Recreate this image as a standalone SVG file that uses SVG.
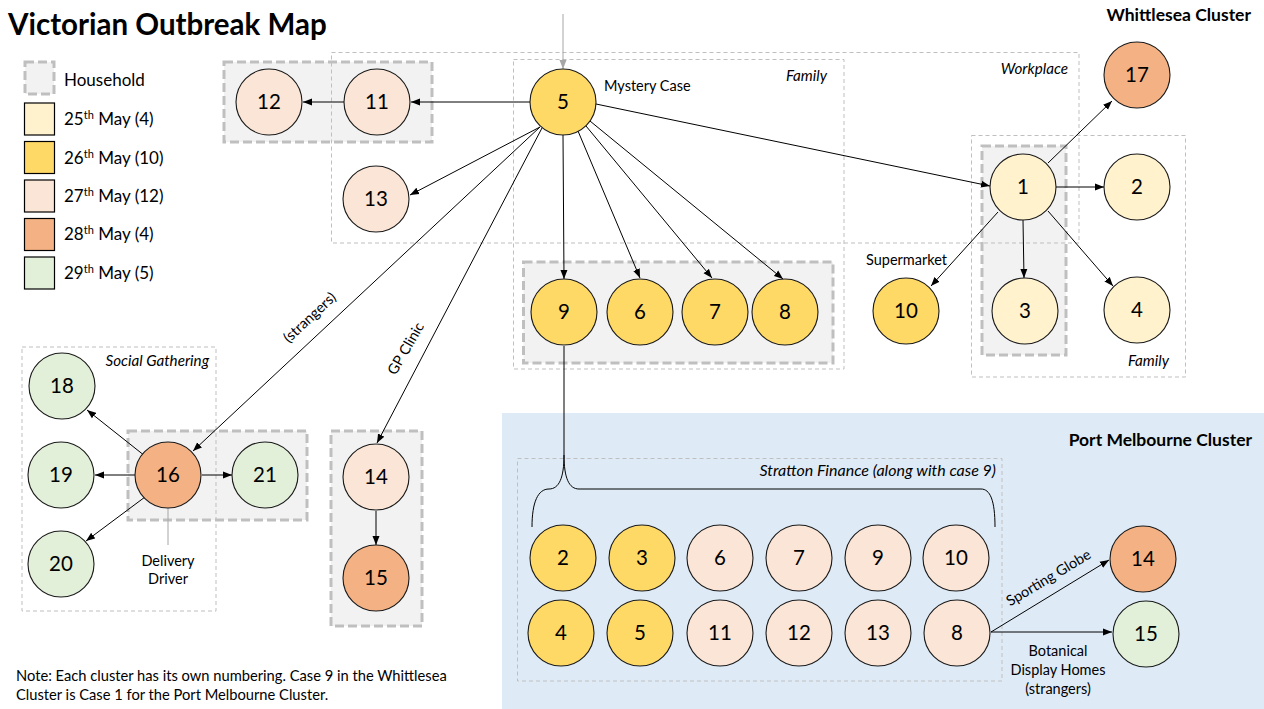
<svg xmlns="http://www.w3.org/2000/svg" width="1264" height="709" viewBox="0 0 1264 709">
  <style>
    text { font-family: Lato, "Open Sans", "Liberation Sans", sans-serif; fill: #000; }
    .title { font-size: 29.5px; font-weight: bold; }
    .cluster { font-size: 17.5px; font-weight: bold; }
    .legend { font-size: 17px; }
    .lbl { font-size: 14.5px; }
    .ital { font-size: 15.2px; font-style: italic; }
    .num { font-size: 20.5px; text-anchor: middle; }
    .note { font-size: 14.7px; }
    .household { fill: #f2f2f2; stroke: #bfbfbf; stroke-width: 3; stroke-dasharray: 9 4; }
    .zone { fill: none; stroke: #bfbfbf; stroke-width: 1; stroke-dasharray: 4 3; }
    .node { stroke: #1a1a1a; stroke-width: 1.1; }
    .d25 { fill: #fff2cc; }
    .d26 { fill: #ffd966; }
    .d27 { fill: #fbe5d6; }
    .d28 { fill: #f4b183; }
    .d29 { fill: #e2f0d9; }
    .edge { stroke: #000; stroke-width: 1; fill: none; marker-end: url(#arrow); }
    .plain { stroke: #000; stroke-width: 1; fill: none; }
    .guide { stroke: #a6a6a6; stroke-width: 1; fill: none; }
  </style>
  <defs>
    <marker id="arrow" markerUnits="userSpaceOnUse" markerWidth="10" markerHeight="8" refX="9" refY="4" orient="auto">
      <path d="M0,0.5 L9,4 L0,7.5 z" fill="#000"/>
    </marker>
    <marker id="arrowGrey" markerUnits="userSpaceOnUse" markerWidth="10" markerHeight="8" refX="9" refY="4" orient="auto">
      <path d="M0,0.5 L9,4 L0,7.5 z" fill="#a6a6a6"/>
    </marker>
  </defs>

  <rect width="1264" height="709" fill="#ffffff"/>

  <!-- Port Melbourne backdrop -->
  <rect x="502" y="413" width="762" height="296" fill="#deebf7"/>

  <!-- Title and cluster headings -->
  <text class="title" x="8" y="35">Victorian Outbreak Map</text>
  <text class="cluster" x="1251" y="21" text-anchor="end">Whittlesea Cluster</text>
  <text class="cluster" x="1252" y="446" text-anchor="end">Port Melbourne Cluster</text>

  <!-- Legend -->
  <g id="legend">
    <rect class="household" x="25" y="62" width="29" height="32"/>
    <text class="legend" x="64" y="86">Household</text>
    <rect class="d25" x="24.5" y="103" width="30" height="32" stroke="#000" stroke-width="1.2"/>
    <text class="legend" x="64" y="125">25<tspan font-size="11" dy="-6">th</tspan><tspan dy="6"> May (4)</tspan></text>
    <rect class="d26" x="24.5" y="141.5" width="30" height="32" stroke="#000" stroke-width="1.2"/>
    <text class="legend" x="64" y="163.5">26<tspan font-size="11" dy="-6">th</tspan><tspan dy="6"> May (10)</tspan></text>
    <rect class="d27" x="24.5" y="180" width="30" height="32" stroke="#000" stroke-width="1.2"/>
    <text class="legend" x="64" y="202">27<tspan font-size="11" dy="-6">th</tspan><tspan dy="6"> May (12)</tspan></text>
    <rect class="d28" x="24.5" y="218.5" width="30" height="32" stroke="#000" stroke-width="1.2"/>
    <text class="legend" x="64" y="240">28<tspan font-size="11" dy="-6">th</tspan><tspan dy="6"> May (4)</tspan></text>
    <rect class="d29" x="24.5" y="257" width="30" height="32" stroke="#000" stroke-width="1.2"/>
    <text class="legend" x="64" y="278.5">29<tspan font-size="11" dy="-6">th</tspan><tspan dy="6"> May (5)</tspan></text>
  </g>

  <!-- Household groupings -->
  <g id="households">
    <rect class="household" x="224" y="62" width="208" height="80"/>
    <rect class="household" x="523.5" y="262" width="309.5" height="101"/>
    <rect class="household" x="982" y="146" width="84" height="209"/>
    <rect class="household" x="128" y="431" width="179" height="89"/>
    <rect class="household" x="331" y="431" width="91" height="195"/>
  </g>

  <!-- Setting zones -->
  <g id="zones">
    <rect class="zone" x="331.5" y="52.5" width="747.5" height="190.5"/>
    <text class="ital" x="1068" y="74" text-anchor="end">Workplace</text>
    <rect class="zone" x="513.5" y="59.5" width="330.5" height="309.5"/>
    <text class="ital" x="827" y="81" text-anchor="end">Family</text>
    <rect class="zone" x="971.5" y="135.5" width="214" height="241.5"/>
    <text class="ital" x="1169" y="366" text-anchor="end">Family</text>
    <rect class="zone" x="22" y="347" width="194" height="264"/>
    <text class="ital" x="209" y="366" text-anchor="end">Social Gathering</text>
    <rect class="zone" x="517.5" y="458.5" width="484.5" height="222.5"/>
    <text class="ital" x="996" y="476" text-anchor="end" style="font-size:16px">Stratton Finance (along with case 9)</text>
  </g>

  <!-- Connectors -->
  <g id="connectors">
    <path class="guide" d="M563,14 L563,69" marker-end="url(#arrowGrey)"/>
    <path class="edge" d="M530,102 L411,102"/>
    <path class="edge" d="M344,102 L303,102"/>
    <path class="edge" d="M540,127 L410,195"/>
    <path class="edge" d="M540,127 L193,451"/>
    <path class="edge" d="M542,128 L377,443"/>
    <path class="edge" d="M563,135 L564,279"/>
    <path class="edge" d="M578,131 L640,278"/>
    <path class="edge" d="M586,126 L712,278"/>
    <path class="edge" d="M590,121 L783,279"/>
    <path class="edge" d="M596,104 L990,186"/>
    <path class="edge" d="M1048,163 L1112,101"/>
    <path class="edge" d="M1056,187 L1104,187"/>
    <path class="edge" d="M1023,220 L1024,278"/>
    <path class="edge" d="M1048,211 L1113,286"/>
    <path class="edge" d="M998,212 L931,286"/>
    <path class="edge" d="M145,456 L87,410"/>
    <path class="edge" d="M135,475 L95,475"/>
    <path class="edge" d="M145,497 L86,541"/>
    <path class="edge" d="M202,475 L232,475"/>
    <path class="edge" d="M376,511 L376,545"/>
    <path class="guide" d="M168,508 L168,545"/>
    <!-- case 9 bracket over Stratton Finance -->
    <path class="plain" d="M564,346 L564,455 C564,478 569,489 579,489 L981,489 C990,489 995,500 995,527"/>
    <path class="plain" d="M564,455 C564,478 559,489 549,489 C538,489 532,502 532,527"/>
    <path class="edge" d="M991,632 L1109,560"/>
    <path class="edge" d="M991,632 L1112,632"/>
  </g>

  <!-- Connector labels -->
  <text class="lbl" x="604" y="91">Mystery Case</text>
  <text class="lbl" x="866" y="265">Supermarket</text>
  <text class="lbl" transform="translate(313,321) rotate(-43)" text-anchor="middle">(strangers)</text>
  <text class="lbl" transform="translate(410,351) rotate(-60)" text-anchor="middle">GP Clinic</text>
  <text class="lbl" transform="translate(1051,582) rotate(-31)" text-anchor="middle">Sporting Globe</text>
  <text class="lbl" x="1058" y="656" text-anchor="middle">Botanical</text>
  <text class="lbl" x="1058" y="675" text-anchor="middle">Display Homes</text>
  <text class="lbl" x="1058" y="694" text-anchor="middle">(strangers)</text>
  <text class="lbl" x="168" y="566" text-anchor="middle">Delivery</text>
  <text class="lbl" x="168" y="584" text-anchor="middle">Driver</text>

  <!-- Whittlesea cases -->
  <g id="w5"><circle class="node d26" cx="563" cy="102" r="33"/><text class="num" x="563" y="109">5</text></g>
  <g id="w11"><circle class="node d27" cx="377" cy="102" r="33"/><text class="num" x="377" y="109">11</text></g>
  <g id="w12"><circle class="node d27" cx="269" cy="102" r="33"/><text class="num" x="269" y="109">12</text></g>
  <g id="w13"><circle class="node d27" cx="376" cy="199" r="33"/><text class="num" x="376" y="206">13</text></g>
  <g id="w9"><circle class="node d26" cx="564" cy="312" r="33"/><text class="num" x="564" y="319">9</text></g>
  <g id="w6"><circle class="node d26" cx="640" cy="312" r="33"/><text class="num" x="640" y="319">6</text></g>
  <g id="w7"><circle class="node d26" cx="715" cy="312" r="33"/><text class="num" x="715" y="319">7</text></g>
  <g id="w8"><circle class="node d26" cx="785" cy="312" r="33"/><text class="num" x="785" y="319">8</text></g>
  <g id="w1"><circle class="node d25" cx="1023" cy="187" r="33"/><text class="num" x="1023" y="194">1</text></g>
  <g id="w2"><circle class="node d25" cx="1137" cy="187" r="33"/><text class="num" x="1137" y="194">2</text></g>
  <g id="w3"><circle class="node d25" cx="1025" cy="311" r="33"/><text class="num" x="1025" y="318">3</text></g>
  <g id="w4"><circle class="node d25" cx="1137" cy="310" r="33"/><text class="num" x="1137" y="317">4</text></g>
  <g id="w10"><circle class="node d26" cx="906" cy="311" r="33"/><text class="num" x="906" y="318">10</text></g>
  <g id="w17"><circle class="node d28" cx="1137" cy="75" r="33"/><text class="num" x="1137" y="82">17</text></g>
  <g id="w16"><circle class="node d28" cx="168" cy="475" r="33"/><text class="num" x="168" y="482">16</text></g>
  <g id="w18"><circle class="node d29" cx="62" cy="386" r="33"/><text class="num" x="62" y="393">18</text></g>
  <g id="w19"><circle class="node d29" cx="61" cy="475" r="33"/><text class="num" x="61" y="482">19</text></g>
  <g id="w20"><circle class="node d29" cx="61" cy="564" r="33"/><text class="num" x="61" y="571">20</text></g>
  <g id="w21"><circle class="node d29" cx="265" cy="475" r="33"/><text class="num" x="265" y="482">21</text></g>
  <g id="w14"><circle class="node d27" cx="376" cy="477" r="33"/><text class="num" x="376" y="484">14</text></g>
  <g id="w15"><circle class="node d28" cx="376" cy="578" r="33"/><text class="num" x="376" y="585">15</text></g>

  <!-- Port Melbourne cases -->
  <g id="p2"><circle class="node d26" cx="563" cy="558" r="33"/><text class="num" x="563" y="565">2</text></g>
  <g id="p3"><circle class="node d26" cx="642" cy="558" r="33"/><text class="num" x="642" y="565">3</text></g>
  <g id="p6"><circle class="node d27" cx="720" cy="558" r="33"/><text class="num" x="720" y="565">6</text></g>
  <g id="p7"><circle class="node d27" cx="799" cy="558" r="33"/><text class="num" x="799" y="565">7</text></g>
  <g id="p9"><circle class="node d27" cx="878" cy="558" r="33"/><text class="num" x="878" y="565">9</text></g>
  <g id="p10"><circle class="node d27" cx="956" cy="558" r="33"/><text class="num" x="956" y="565">10</text></g>
  <g id="p4"><circle class="node d26" cx="561" cy="633" r="33"/><text class="num" x="561" y="640">4</text></g>
  <g id="p5"><circle class="node d26" cx="640" cy="633" r="33"/><text class="num" x="640" y="640">5</text></g>
  <g id="p11"><circle class="node d27" cx="720" cy="633" r="33"/><text class="num" x="720" y="640">11</text></g>
  <g id="p12"><circle class="node d27" cx="799" cy="633" r="33"/><text class="num" x="799" y="640">12</text></g>
  <g id="p13"><circle class="node d27" cx="878" cy="633" r="33"/><text class="num" x="878" y="640">13</text></g>
  <g id="p8"><circle class="node d27" cx="957" cy="633" r="33"/><text class="num" x="957" y="640">8</text></g>
  <g id="p14"><circle class="node d28" cx="1143" cy="559" r="33"/><text class="num" x="1143" y="566">14</text></g>
  <g id="p15"><circle class="node d29" cx="1146" cy="634" r="33"/><text class="num" x="1146" y="641">15</text></g>

  <!-- Footnote -->
  <text class="note" x="16" y="681">Note: Each cluster has its own numbering. Case 9 in the Whittlesea</text>
  <text class="note" x="16" y="700">Cluster is Case 1 for the Port Melbourne Cluster.</text>
</svg>
